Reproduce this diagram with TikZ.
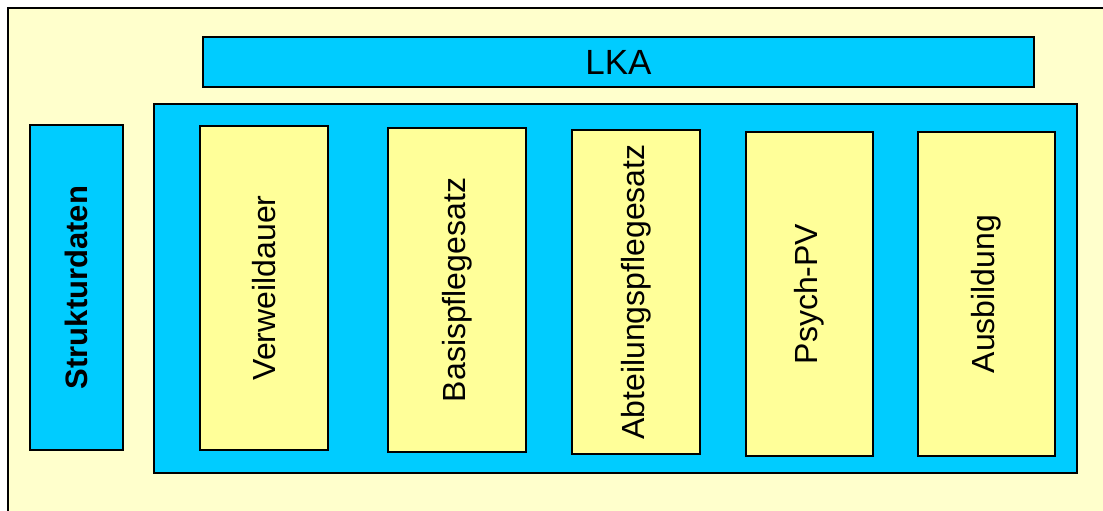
\documentclass[tikz,border=0pt]{standalone}
\usepackage{fontspec}
\setmainfont{Liberation Sans}
\definecolor{bgyellow}{HTML}{FFFFCC}
\definecolor{boxcyan}{HTML}{00CCFF}
\definecolor{boxyellow}{HTML}{FFFF99}
\begin{document}
\begin{tikzpicture}[x=1pt,y=-1pt,
  cyanbox/.style={draw=black, line width=2pt, fill=boxcyan, inner sep=0pt},
  yelbox/.style={draw=black, line width=2pt, fill=boxyellow, inner sep=0pt, rotate=90,
     font=\fontsize{32}{38}\selectfont},
  lbl/.style={font=\fontsize{35}{42}\selectfont}]
\useasboundingbox (0,0) rectangle (1103,511);
\fill[white] (0,0) rectangle (1103,511);
\fill[bgyellow] (8,8) rectangle (1110,520);
\draw[black, line width=2pt] (8,520) -- (8,8) -- (1110,8);
% LKA
\node[cyanbox, lbl, minimum width=831pt, minimum height=50pt] (lka) at (618.5,62) {LKA};
% big container
\node[cyanbox, minimum width=923pt, minimum height=369pt] (main) at (615.5,288.5) {};
% Strukturdaten
\node[cyanbox, rotate=90, minimum width=325pt, minimum height=93pt,
      font=\fontsize{31}{38}\selectfont\bfseries] (struk) at (76.5,287.5) {Strukturdaten};
% inner boxes
\node[yelbox, minimum width=324pt, minimum height=128pt] (verw) at (264,288) {Verweildauer};
\node[yelbox, minimum width=324pt, minimum height=138pt] (basis) at (457,290) {Basispflegesatz};
\node[yelbox, minimum width=324pt, minimum height=128pt] (abt) at (636,292) {Abteilungspflegesatz};
\node[yelbox, minimum width=324pt, minimum height=127pt] (psych) at (809.5,294) {Psych-PV};
\node[yelbox, minimum width=324pt, minimum height=137pt] (ausb) at (986.5,294) {Ausbildung};
\end{tikzpicture}
\end{document}
